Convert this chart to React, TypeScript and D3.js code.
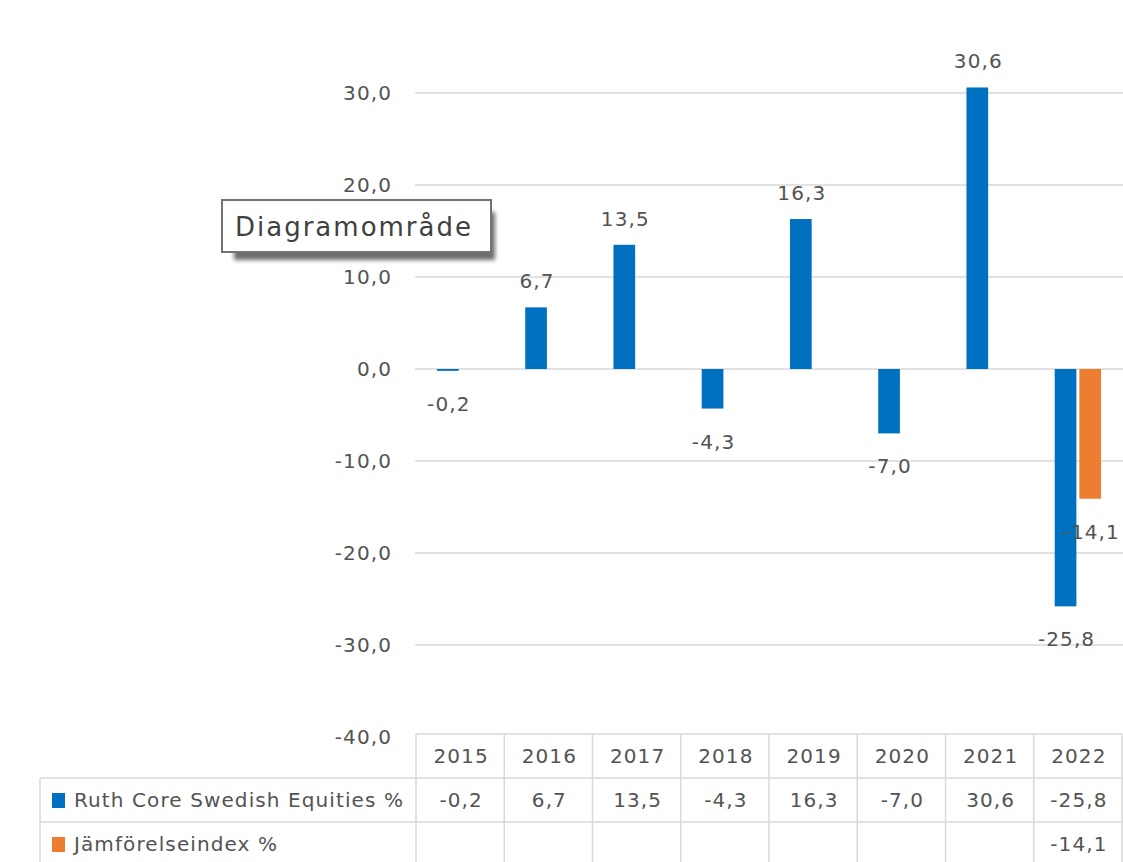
import React from 'react';
import * as d3 from 'd3';

const years = ['2015', '2016', '2017', '2018', '2019', '2020', '2021', '2022'];
const ruthValues = [-0.2, 6.7, 13.5, -4.3, 16.3, -7.0, 30.6, -25.8];
const indexValues: (number | null)[] = [null, null, null, null, null, null, null, -14.1];
const seriesNames = ['Ruth Core Swedish Equities %', 'Jämförelseindex %'];
const seriesColors = ['#0070C0', '#ED7D31'];
const yTicks = [-40, -30, -20, -10, 0, 10, 20, 30];

const W = 1123;
const H = 862;
const FONT = '"DejaVu Sans", sans-serif';
const TEXT = '#535353';
const GRID = '#d9d9d9';

const fmt = d3.formatLocale({
  decimal: ',',
  thousands: ' ',
  grouping: [3],
  currency: ['', ' kr'],
  minus: '-',
}).format('.1f');

function App() {
  const x0 = d3.scaleBand().domain(years).range([416, 1122]).paddingInner(0).paddingOuter(0);
  const x1 = d3.scaleBand<number>().domain([0, 1]).range([0, x0.bandwidth()]).paddingInner(0.12).paddingOuter(0.85);
  const y = d3.scaleLinear().domain([-40, 30]).range([737, 93]);

  const series = [ruthValues, indexValues];
  const tableTop = 734;
  const rowH = 44;
  const tableLeft = 40;
  const colLeft = x0.range()[0];
  const colRight = x0.range()[1];

  const textStyle = { fontFamily: FONT, fontSize: 20, letterSpacing: 1.1, fill: TEXT } as const;

  return (
    <svg width={W} height={H} style={{ position: 'absolute', left: 0, top: 0, background: '#fff' }}>
      <defs>
        <filter id="shadow" x="-20%" y="-50%" width="140%" height="200%">
          <feGaussianBlur stdDeviation="2" />
        </filter>
      </defs>
      <rect width={W} height={H} fill="#fff" />

      {/* gridlines */}
      {yTicks.filter(t => t > -40).map(t => (
        <line key={t} x1={415} x2={W} y1={y(t)} y2={y(t)} stroke={GRID} strokeWidth={1.5} />
      ))}

      {/* y axis labels */}
      {yTicks.map(t => (
        <text key={t} x={392} y={y(t) + 7} textAnchor="end" {...textStyle}>{fmt(t)}</text>
      ))}

      {/* bars */}
      {series.map((vals, si) =>
        vals.map((v, i) => {
          if (v == null) return null;
          const bx = (x0(years[i]) as number) + (x1(si) as number);
          const top = Math.min(y(v), y(0));
          const h = Math.abs(y(v) - y(0));
          return <rect key={`${si}-${i}`} x={bx} y={top} width={x1.bandwidth()} height={h} fill={seriesColors[si]} />;
        })
      )}

      {/* data labels */}
      {series.map((vals, si) =>
        vals.map((v, i) => {
          if (v == null) return null;
          const cx = (x0(years[i]) as number) + (x1(si) as number) + x1.bandwidth() / 2;
          const ly = v >= 0 ? y(v) - 19 : y(v) + 40;
          return (
            <text key={`l${si}-${i}`} x={cx + 1} y={ly} textAnchor="middle" {...textStyle}>{fmt(v)}</text>
          );
        })
      )}

      {/* data table */}
      <g stroke={GRID} strokeWidth={1.5} fill="none">
        <line x1={colLeft} x2={colRight} y1={tableTop} y2={tableTop} />
        <line x1={tableLeft} x2={colRight} y1={tableTop + rowH} y2={tableTop + rowH} />
        <line x1={tableLeft} x2={colRight} y1={tableTop + 2 * rowH} y2={tableTop + 2 * rowH} />
        <line x1={tableLeft} x2={tableLeft} y1={tableTop + rowH} y2={H} />
        {years.map(yr => (
          <line key={yr} x1={x0(yr)} x2={x0(yr)} y1={tableTop} y2={H} />
        ))}
        <line x1={colRight} x2={colRight} y1={tableTop} y2={H} />
      </g>
      {years.map(yr => (
        <text key={yr} x={(x0(yr) as number) + x0.bandwidth() / 2 + 1} y={tableTop + rowH / 2 + 7} textAnchor="middle" {...textStyle}>{yr}</text>
      ))}
      {series.map((vals, si) =>
        vals.map((v, i) =>
          v == null ? null : (
            <text key={`t${si}-${i}`} x={(x0(years[i]) as number) + x0.bandwidth() / 2 + 1} y={tableTop + rowH * (si + 1) + rowH / 2 + 7} textAnchor="middle" {...textStyle}>{fmt(v)}</text>
          )
        )
      )}
      {seriesNames.map((name, si) => (
        <g key={name}>
          <rect x={52} y={tableTop + rowH * (si + 1) + 15} width={13} height={15} fill={seriesColors[si]} />
          <text x={74} y={tableTop + rowH * (si + 1) + rowH / 2 + 7} {...textStyle}>{name}</text>
        </g>
      ))}

      {/* chart area tooltip */}
      <rect x={234} y={212} width={261} height={48} fill="#3a3a3a" opacity={0.75} filter="url(#shadow)" />
      <rect x={222} y={200} width={269} height={52} fill="#fff" stroke="#737373" strokeWidth={2} />
      <text x={235} y={236} fontFamily={FONT} fontSize={26} letterSpacing={2} fill="#404040">Diagramområde</text>
    </svg>
  );
}

export default App;
